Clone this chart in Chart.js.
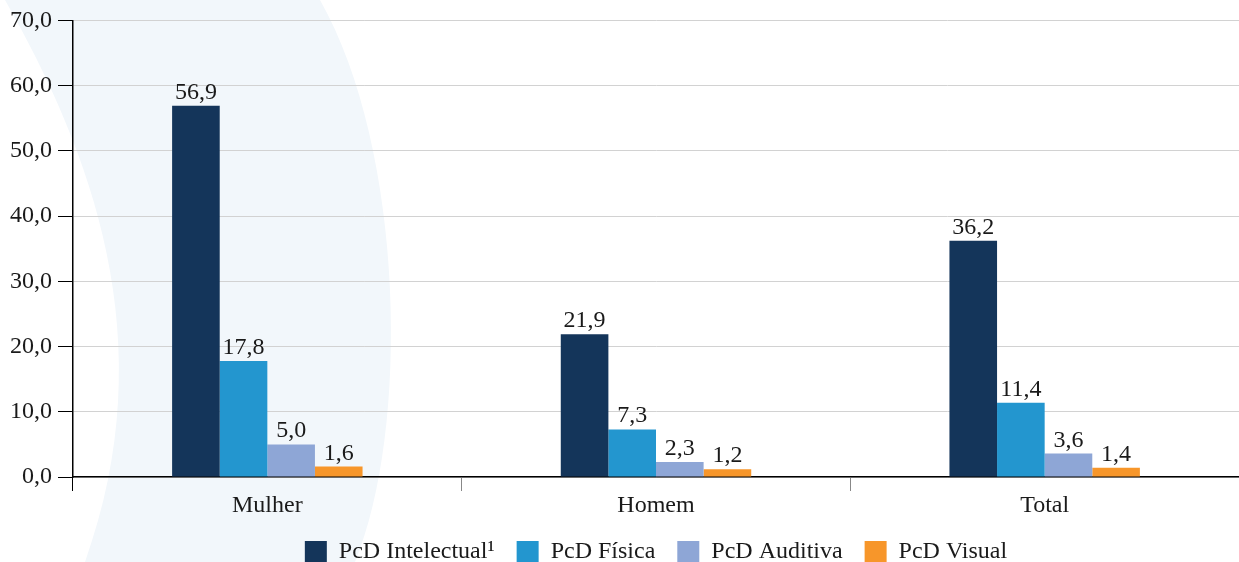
<!DOCTYPE html>
<html>
<head>
<meta charset="utf-8">
<script src="https://cdn.jsdelivr.net/npm/chart.js@4"></script>
<style>
    html, body { margin: 0; padding: 0; background: #fff; }
    #wrap { width: 1239px; height: 562px; position: relative; }
</style>
</head>
<body>
<div id="wrap"><canvas id="chart"></canvas></div>
<script>
    // Chart data
    var categories = ['Mulher', 'Homem', 'Total'];
    var seriesNames = ['PcD Intelectual\u00b9', 'PcD F\u00edsica', 'PcD Auditiva', 'PcD Visual'];
    var intelectual = [56.9, 21.9, 36.2];
    var fisica = [17.8, 7.3, 11.4];
    var auditiva = [5.0, 2.3, 3.6];
    var visual = [1.6, 1.2, 1.4];
    var seriesColors = ['#14355a', '#2396cf', '#8ea6d6', '#f7962a'];
    var yTicks = [0, 10, 20, 30, 40, 50, 60, 70];

    var FONT = '"Liberation Serif", "Times New Roman", Times, serif';
    var FONT_SIZE = 24;

    function fmt(v) {
        return v.toFixed(1).replace('.', ',');
    }

    // light decorative band behind the plot
    var backdrop = {
        id: 'backdrop',
        beforeDraw: function(chart) {
            var ctx = chart.ctx;
            ctx.save();
            ctx.fillStyle = '#f2f7fb';
            ctx.beginPath();
            ctx.moveTo(5, 0);
            ctx.bezierCurveTo(90, 150, 165, 340, 85, 562);
            ctx.lineTo(355, 562);
            ctx.bezierCurveTo(410, 430, 405, 150, 320, 0);
            ctx.closePath();
            ctx.fill();
            ctx.restore();
        }
    };

    // center the legend under the plot area instead of the whole canvas
    var legendUnderPlot = {
        id: 'legendUnderPlot',
        afterLayout: function(chart) {
            if (!chart.legend) return;
            chart.legend.left = chart.chartArea.left;
            chart.legend.right = chart.chartArea.right;
        }
    };

    // value labels above each bar
    var valueLabels = {
        id: 'valueLabels',
        afterDatasetsDraw: function(chart) {
            var ctx = chart.ctx;
            ctx.save();
            ctx.font = FONT_SIZE + 'px ' + FONT;
            ctx.fillStyle = '#1a1a1a';
            ctx.textAlign = 'center';
            ctx.textBaseline = 'alphabetic';
            chart.data.datasets.forEach(function(ds, i) {
                var meta = chart.getDatasetMeta(i);
                meta.data.forEach(function(bar, j) {
                    ctx.fillText(fmt(ds.data[j]), bar.x, bar.y - 7);
                });
            });
            ctx.restore();
        }
    };

    var allSeries = [intelectual, fisica, auditiva, visual];

    function drawChart() {
        Chart.defaults.font.family = FONT;
        Chart.defaults.font.size = FONT_SIZE;

        new Chart(document.getElementById('chart'), {
            type: 'bar',
            data: {
                labels: categories,
                datasets: allSeries.map(function(values, i) {
                    return {
                        label: seriesNames[i],
                        data: values,
                        backgroundColor: seriesColors[i],
                        borderWidth: 0,
                        categoryPercentage: 0.49,
                        barPercentage: 1.0
                    };
                })
            },
            options: {
                responsive: true,
                maintainAspectRatio: false,
                animation: false,
                layout: {
                    padding: { top: 8, right: 0, bottom: -12, left: 0 }
                },
                plugins: {
                    legend: {
                        position: 'bottom',
                        labels: {
                            boxWidth: 22,
                            boxHeight: 22,
                            padding: 22,
                            color: '#1a1a1a',
                            font: { family: FONT, size: FONT_SIZE }
                        }
                    },
                    tooltip: { enabled: false }
                },
                scales: {
                    x: {
                        afterFit: function(scale) {
                            scale.height = 41;
                        },
                        grid: {
                            display: true,
                            drawOnChartArea: false,
                            offset: true,
                            color: function(c) {
                                return c.index === 0 ? '#000' : '#888';
                            },
                            tickLength: 14
                        },
                        border: { color: '#000', width: 1.5 },
                        ticks: {
                            color: '#1a1a1a',
                            padding: 0,
                            font: { family: FONT, size: FONT_SIZE }
                        }
                    },
                    y: {
                        min: 0,
                        max: 70,
                        afterFit: function(scale) {
                            scale.width = 73;
                        },
                        afterBuildTicks: function(scale) {
                            scale.ticks = yTicks.map(function(v) { return { value: v }; });
                        },
                        grid: {
                            color: '#d2d2d2',
                            tickColor: '#000',
                            tickLength: 15
                        },
                        border: { color: '#000', width: 1.5 },
                        ticks: {
                            color: '#1a1a1a',
                            padding: 6,
                            font: { family: FONT, size: FONT_SIZE },
                            callback: function(v) { return fmt(v); }
                        }
                    }
                }
            },
            plugins: [backdrop, legendUnderPlot, valueLabels]
        });
    }

    // make sure the serif face is ready before the canvas uses it
    if (document.fonts && document.fonts.load) {
        document.fonts.load(FONT_SIZE + 'px "Liberation Serif"').then(drawChart, drawChart);
    } else {
        drawChart();
    }
</script>
</body>
</html>
